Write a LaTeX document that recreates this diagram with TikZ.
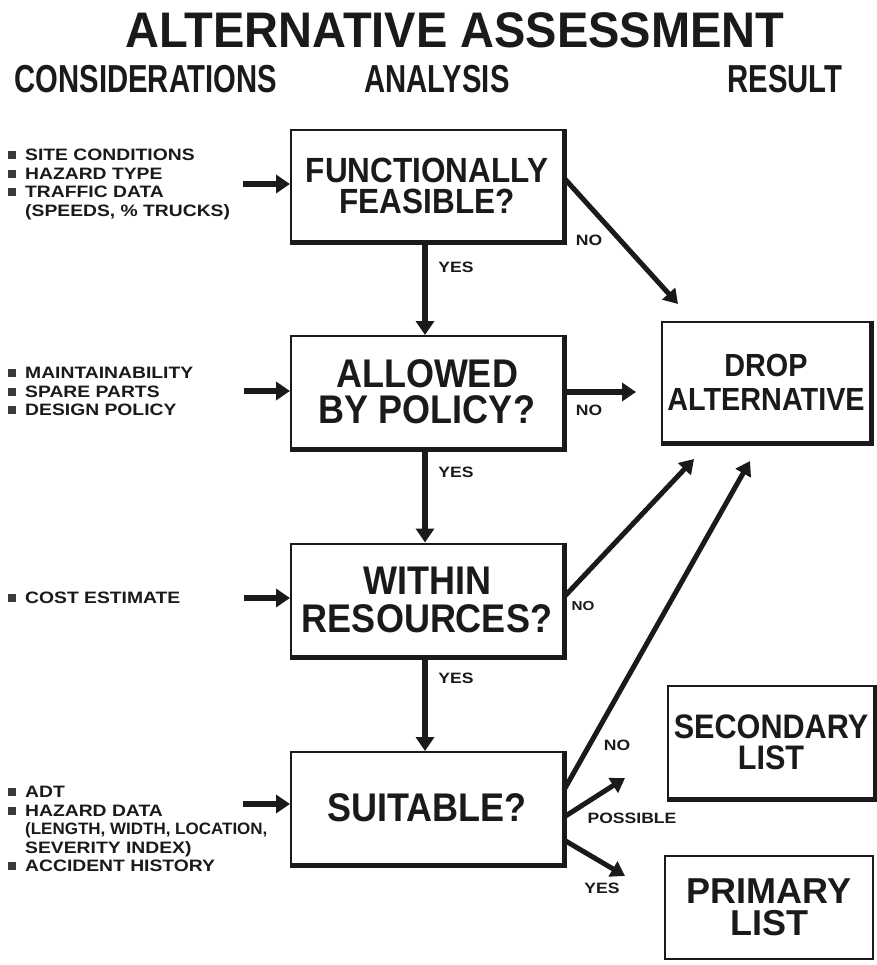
\documentclass[tikz,border=0pt]{standalone}
\usepackage{fontspec}
\usetikzlibrary{arrows.meta}
\newfontfamily\titlefont{Liberation Sans}[FakeStretch=0.94]
\newfontfamily\headfont{Liberation Sans}[FakeStretch=0.75]
\newfontfamily\boxfont{Liberation Sans}[FakeStretch=0.9]
\newfontfamily\boxwidefont{Liberation Sans}[FakeStretch=1.0]
\newfontfamily\smallfont{Liberation Sans}[FakeStretch=1.17]
\definecolor{ink}{HTML}{1A1A1A}
\definecolor{bulc}{HTML}{3A3A3A}
\newcommand\bul{\makebox[17pt][l]{\textcolor{bulc}{\rule[1.5pt]{8pt}{8pt}}}}
\newcommand\ind{\hspace*{17pt}}
\begin{document}
\begin{tikzpicture}[x=1pt,y=-1pt,
  box/.style={draw=ink, line width=2pt, fill=white, align=center, inner sep=0pt, text=ink,
    font=\boxfont\bfseries\fontsize{39}{36}\selectfont},
  shadowln/.style={draw=ink, line width=5pt, line join=miter},
  arr/.style={draw=ink, line width=6.5pt, -{Triangle[length=14pt,width=18pt]}},
  darr/.style={draw=ink, line width=5pt, -{Triangle[length=14pt,width=17pt]}},
  lbl/.style={font=\smallfont\bfseries\fontsize{15}{15}\selectfont, inner sep=0pt, text=ink},
  list/.style={font=\smallfont\bfseries\fontsize{16.5}{18.5}\selectfont, align=left, inner sep=0pt, anchor=north west, text=ink},
  head/.style={font=\headfont\bfseries\fontsize{39}{39}\selectfont, inner sep=0pt, text=ink},
]
\fill[white] (0,0) rectangle (876,965);
\useasboundingbox (0,0) rectangle (876,965);

% titles
\node[font=\titlefont\bfseries\fontsize{50}{50}\selectfont, inner sep=0pt, text=ink] (title) at (455,30) {ALTERNATIVE ASSESSMENT};
\node[head] (hcons) at (146,79) {CONSIDERATIONS};
\node[head] (hana) at (437,79) {ANALYSIS};
\node[head] (hres) at (785,79) {RESULT};

% analysis boxes
\node[box, minimum width=272pt, minimum height=112pt, font=\boxfont\bfseries\fontsize{35}{31}\selectfont] (b1) at (427,186) {FUNCTIONALLY\\FEASIBLE?};
\node[box, minimum width=272pt, minimum height=112pt, font=\boxfont\bfseries\fontsize{40}{36}\selectfont] (b2) at (427,392) {ALLOWED\\BY POLICY?};
\node[box, minimum width=272pt, minimum height=113pt, font=\boxfont\bfseries\fontsize{40}{38}\selectfont] (b3) at (427,600) {WITHIN\\RESOURCES?};
\node[box, minimum width=272pt, minimum height=112pt, font=\boxfont\bfseries\fontsize{40}{36}\selectfont] (b4) at (427,808) {SUITABLE?};

% result boxes
\node[box, minimum width=208pt, minimum height=120pt, font=\boxfont\bfseries\fontsize{32}{34}\selectfont] (drop) at (766,382) {DROP\\ALTERNATIVE};
\node[box, minimum width=207pt, minimum height=112pt, font=\boxfont\bfseries\fontsize{34}{31}\selectfont] (sec) at (771,742) {SECONDARY\\LIST};
\node[box, minimum width=208pt, minimum height=103pt, font=\boxwidefont\bfseries\fontsize{36}{32}\selectfont] (prim) at (769,907) {PRIMARY\\LIST};

\foreach \n in {b1,b2,b3,b4,drop,sec}{
  \draw[shadowln] (\n.north east) -- (\n.south east) -- (\n.south west);
}

% considerations
\node[list] (l1) at (8,149) {\bul SITE CONDITIONS\\\bul HAZARD TYPE\\\bul TRAFFIC DATA\\\ind(SPEEDS, \% TRUCKS)};
\node[list] (l2) at (8,367) {\bul MAINTAINABILITY\\\bul SPARE PARTS\\\bul DESIGN POLICY};
\node[list] (l3) at (8,592) {\bul COST ESTIMATE};
\node[list] (l4) at (8,786) {\bul ADT\\\bul HAZARD DATA\\\ind\scalebox{0.88}[1]{(LENGTH, WIDTH, LOCATION,}\\\ind SEVERITY INDEX)\\\bul ACCIDENT HISTORY};

% input arrows
\coordinate (i1) at (243,184);
\coordinate (i2) at (244,391);
\coordinate (i3) at (244,598);
\coordinate (i4) at (243,804);
\draw[arr] (i1) -- (i1 -| b1.west);
\draw[arr] (i2) -- (i2 -| b2.west);
\draw[arr] (i3) -- (i3 -| b3.west);
\draw[arr] (i4) -- (i4 -| b4.west);

% yes arrows
\draw[arr] ([xshift=-2pt]b1.south) -- ([xshift=-2pt]b2.north);
\draw[arr] ([xshift=-2pt]b2.south) -- ([xshift=-2pt]b3.north);
\draw[arr] ([xshift=-2pt]b3.south) -- ([xshift=-2pt]b4.north);
\node[lbl] (y1) at (456,267) {YES};
\node[lbl] (y2) at (456,472) {YES};
\node[lbl] (y3) at (456,678) {YES};

% no arrows to drop
\coordinate (n1) at (678,304);
\coordinate (n2) at (636,392);
\coordinate (n3) at (694,459);
\coordinate (n4) at (750,461);
\draw[darr] ([yshift=8pt]b1.east) -- (n1);
\draw[arr] (b2.east) -- (n2);
\draw[darr] ([yshift=3pt]b3.east) -- (n3);
\draw[darr] ([yshift=18pt]b4.east) -- (n4);
\node[lbl] (no1) at (589,240) {NO};
\node[lbl] (no2) at (589,410) {NO};
\node[lbl, font=\smallfont\bfseries\fontsize{13}{13}\selectfont] (no3) at (583,606) {NO};
\node[lbl] (no4) at (617,745) {NO};

% possible / yes
\coordinate (p1) at (625,778);
\coordinate (p2) at (625,876);
\draw[darr] ([yshift=-9pt]b4.east) -- (p1);
\draw[darr] ([yshift=-32pt]b4.east) -- (p2);
\node[lbl] (pos) at (632,818) {POSSIBLE};
\node[lbl] (y4) at (602,888) {YES};
\end{tikzpicture}
\end{document}
